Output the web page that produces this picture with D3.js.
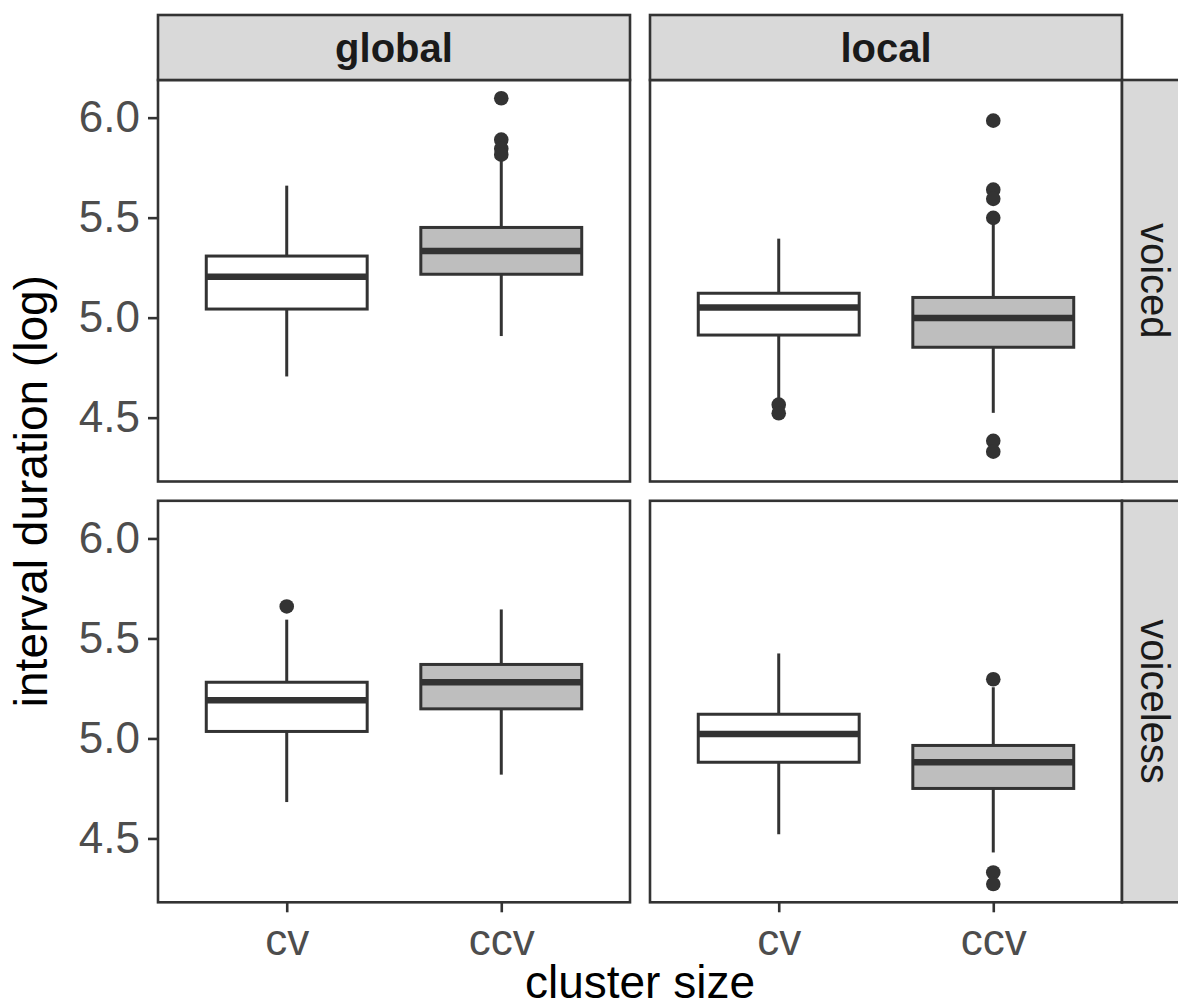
<!DOCTYPE html>
<html>
<head>
<meta charset="utf-8">
<script src="https://cdn.jsdelivr.net/npm/d3@7"></script>
<style>
  body { margin: 0; background: #fff; }
  svg { display: block; font-family: "Liberation Sans", Arial, Helvetica, sans-serif; }
</style>
</head>
<body>
<div id="chart"></div>
<script>
// Facets and categories
const facetCols = ["global", "local"];
const facetRows = ["voiced", "voiceless"];
const clusters = ["cv", "ccv"];
const yTicks = [4.5, 5.0, 5.5, 6.0];

// Box statistics, order: voiced/global cv, ccv, voiced/local cv, ccv,
// voiceless/global cv, ccv, voiceless/local cv, ccv
const lowerWhisker = [4.706, 4.908, 4.580, 4.524, 4.682, 4.819, 4.521, 4.430];
const q1 = [5.043, 5.217, 4.913, 4.852, 5.035, 5.148, 4.881, 4.750];
const median = [5.204, 5.333, 5.051, 4.998, 5.191, 5.281, 5.022, 4.881];
const q3 = [5.308, 5.451, 5.122, 5.101, 5.281, 5.370, 5.121, 4.965];
const upperWhisker = [5.660, 5.790, 5.395, 5.490, 5.594, 5.645, 5.425, 5.256];
const outliers = [
  [],
  [6.097, 5.890, 5.845, 5.815],
  [4.565, 4.522],
  [5.985, 5.640, 5.594, 5.499, 4.384, 4.330],
  [5.660],
  [],
  [],
  [5.296, 4.330, 4.272]
];

const boxFill = { cv: "#ffffff", ccv: "#bebebe" };

// Build a row per box
const boxes = [];
facetRows.forEach((row, ri) => {
  facetCols.forEach((col, ci) => {
    clusters.forEach((cl, ki) => {
      const i = ri * 4 + ci * 2 + ki;
      boxes.push({
        row: ri, col: ci, cluster: cl,
        lo: lowerWhisker[i], q1: q1[i], med: median[i], q3: q3[i], hi: upperWhisker[i],
        out: outliers[i]
      });
    });
  });
});

// Layout
const width = 1178;
const height = 1007;
const colLeft = [158, 650];
const panelW = 472;
const rowTop = [80, 500.8];
const panelH = 401.5;
const stripH = 65;
const dark = "#333333";

const svg = d3.create("svg")
    .attr("width", width)
    .attr("height", height);

// y domain with ggplot-style 5% expansion
const allVals = boxes.flatMap(b => [b.lo, b.hi, ...b.out]);
const yMin = d3.min(allVals), yMax = d3.max(allVals);
const pad = (yMax - yMin) * 0.05;

const x = d3.scalePoint()
    .domain(clusters)
    .range([0, panelW])
    .padding(0.6);
const boxW = x.step() * 0.75;

const yScales = rowTop.map(t => d3.scaleLinear()
    .domain([yMin - pad, yMax + pad])
    .range([t + panelH, t]));

// Panels
facetRows.forEach((row, ri) => {
  facetCols.forEach((col, ci) => {
    const y = yScales[ri];
    const g = svg.append("g").attr("transform", `translate(${colLeft[ci]},0)`);

    g.append("rect")
        .attr("x", 0).attr("y", rowTop[ri])
        .attr("width", panelW).attr("height", panelH)
        .attr("fill", "#fff");

    const bx = g.selectAll("g.box")
      .data(boxes.filter(b => b.row === ri && b.col === ci))
      .join("g")
        .attr("class", "box")
        .attr("transform", d => `translate(${x(d.cluster)},0)`);

    // whiskers
    bx.append("line")
        .attr("y1", d => y(d.hi)).attr("y2", d => y(d.q3))
        .attr("stroke", dark).attr("stroke-width", 3);
    bx.append("line")
        .attr("y1", d => y(d.q1)).attr("y2", d => y(d.lo))
        .attr("stroke", dark).attr("stroke-width", 3);

    // box
    bx.append("rect")
        .attr("x", -boxW / 2)
        .attr("y", d => y(d.q3))
        .attr("width", boxW)
        .attr("height", d => y(d.q1) - y(d.q3))
        .attr("fill", d => boxFill[d.cluster])
        .attr("stroke", dark).attr("stroke-width", 3);

    // median
    bx.append("line")
        .attr("x1", -boxW / 2).attr("x2", boxW / 2)
        .attr("y1", d => y(d.med)).attr("y2", d => y(d.med))
        .attr("stroke", dark).attr("stroke-width", 6.5);

    // outliers
    bx.selectAll("circle")
      .data(d => d.out)
      .join("circle")
        .attr("cy", d => y(d))
        .attr("r", 7.3)
        .attr("fill", dark);

    // border
    g.append("rect")
        .attr("x", 0).attr("y", rowTop[ri])
        .attr("width", panelW).attr("height", panelH)
        .attr("fill", "none")
        .attr("stroke", dark).attr("stroke-width", 2.6);
  });
});

// Top strips
facetCols.forEach((col, ci) => {
  svg.append("rect")
      .attr("x", colLeft[ci]).attr("y", rowTop[0] - stripH)
      .attr("width", panelW).attr("height", stripH)
      .attr("fill", "#d9d9d9")
      .attr("stroke", dark).attr("stroke-width", 2.6);
  svg.append("text")
      .attr("x", colLeft[ci] + panelW / 2)
      .attr("y", rowTop[0] - stripH / 2)
      .attr("dy", "0.35em")
      .attr("text-anchor", "middle")
      .attr("font-size", 40)
      .attr("font-weight", "bold")
      .attr("fill", "#1a1a1a")
      .text(col);
});

// Right strips
const stripX = colLeft[1] + panelW;
facetRows.forEach((row, ri) => {
  svg.append("rect")
      .attr("x", stripX).attr("y", rowTop[ri])
      .attr("width", stripH).attr("height", panelH)
      .attr("fill", "#d9d9d9")
      .attr("stroke", dark).attr("stroke-width", 2.6);
  svg.append("text")
      .attr("transform", `translate(${stripX + stripH / 2},${rowTop[ri] + panelH / 2}) rotate(90)`)
      .attr("dy", "0.35em")
      .attr("text-anchor", "middle")
      .attr("font-size", 40)
      .attr("fill", "#1a1a1a")
      .text(row);
});

// y axes (left column only)
yScales.forEach(y => {
  const ax = svg.append("g")
      .attr("transform", `translate(${colLeft[0]},0)`)
      .call(d3.axisLeft(y).tickValues(yTicks).tickFormat(d3.format(".1f")).tickSize(10).tickPadding(8));
  ax.select(".domain").remove();
  ax.selectAll(".tick line").attr("stroke", dark).attr("stroke-width", 2.6);
  ax.selectAll(".tick text")
      .attr("fill", "#4d4d4d")
      .attr("font-size", 44)
      .attr("font-family", null);
});

// x axes (bottom row only)
colLeft.forEach(cx => {
  const ax = svg.append("g")
      .attr("transform", `translate(${cx},${rowTop[1] + panelH})`)
      .call(d3.axisBottom(x).tickSize(10).tickPadding(11));
  ax.select(".domain").remove();
  ax.selectAll(".tick line").attr("stroke", dark).attr("stroke-width", 2.6);
  ax.selectAll(".tick text")
      .attr("fill", "#4d4d4d")
      .attr("font-size", 44)
      .attr("font-family", null);
});

// Axis titles
svg.append("text")
    .attr("x", (colLeft[0] + colLeft[1] + panelW) / 2)
    .attr("y", 998)
    .attr("text-anchor", "middle")
    .attr("font-size", 46)
    .attr("fill", "#000")
    .text("cluster size");

svg.append("text")
    .attr("transform", `translate(47,${(rowTop[0] + rowTop[1] + panelH) / 2}) rotate(-90)`)
    .attr("text-anchor", "middle")
    .attr("font-size", 46)
    .attr("fill", "#000")
    .text("interval duration (log)");

d3.select("#chart").node().appendChild(svg.node());
</script>
</body>
</html>
